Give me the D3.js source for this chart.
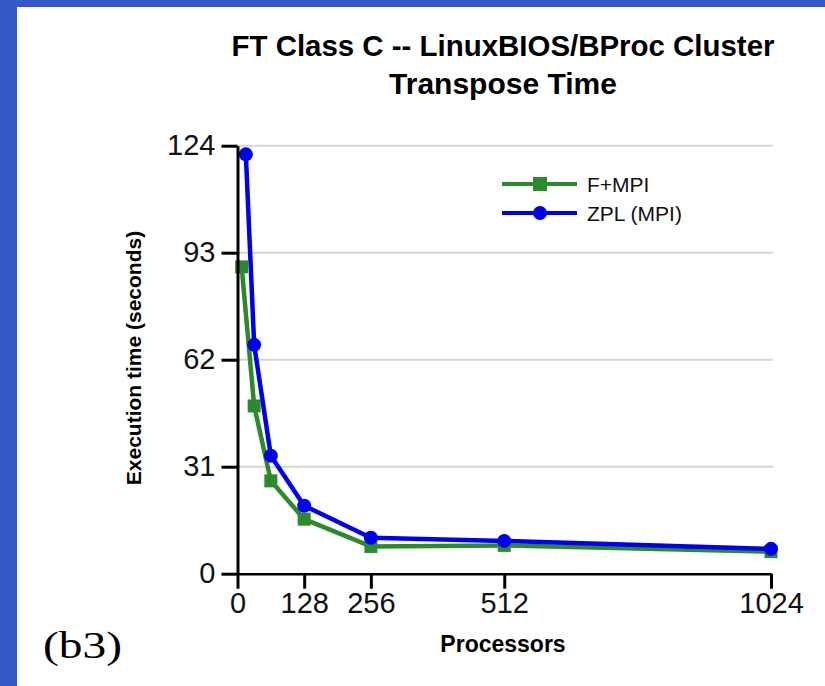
<!DOCTYPE html>
<html lang="en">
    <head>
        <meta charset="utf-8">
        <script src="https://d3js.org/d3.v7.min.js"></script>
        <style>
            body { margin: 0; background: #ffffff; }
        </style>
        <title>FT Class C</title>
    </head>
    <body>
        <div id="chart"></div>
        <script>
            // data
            var procsF = [8, 32, 64, 128, 256, 512, 1024];
            var fmpi   = [88.9, 48.6, 26.9, 15.8, 7.9, 8.2, 6.4];
            var procsZ = [16, 32, 64, 128, 256, 512, 1024];
            var zpl    = [121.5, 66.3, 34.2, 19.7, 10.4, 9.5, 7.2];
            var xTicks = [0, 128, 256, 512, 1024];
            var yTicks = [0, 31, 62, 93, 124];
            var seriesNames = ["F+MPI", "ZPL (MPI)"];

            var W = 825, H = 686;
            var sans = "'Liberation Sans', Arial, sans-serif";
            var svg = d3.select("#chart")
                .append("svg")
                    .attr("width", W)
                    .attr("height", H)
                    .attr("font-family", sans);

            // blue frame on top and left
            svg.append("rect").attr("x", 0).attr("y", 0).attr("width", W).attr("height", 7).attr("fill", "#3558c6");
            svg.append("rect").attr("x", 0).attr("y", 0).attr("width", 17).attr("height", H).attr("fill", "#3558c6");

            var x = d3.scaleLinear().domain([0, 1024]).range([237.5, 771]);
            var y = d3.scaleLinear().domain([0, 124]).range([573.7, 145.7]);

            // title
            svg.append("text")
                .attr("x", 503).attr("y", 56)
                .attr("text-anchor", "middle")
                .attr("font-size", 30).attr("font-weight", "bold")
                .attr("textLength", 543).attr("lengthAdjust", "spacingAndGlyphs")
                .text("FT Class C -- LinuxBIOS/BProc Cluster");
            svg.append("text")
                .attr("x", 503).attr("y", 94)
                .attr("text-anchor", "middle")
                .attr("font-size", 30).attr("font-weight", "bold")
                .text("Transpose Time");

            // grid
            svg.selectAll(".grid")
                .data(yTicks.filter(d => d > 0))
                .enter()
                .append("line")
                    .attr("class", "grid")
                    .attr("x1", x(0)).attr("x2", x(1024) + 2)
                    .attr("y1", d => y(d)).attr("y2", d => y(d))
                    .attr("stroke", "#d6d6d6")
                    .attr("stroke-width", 2);

            // series
            var line = d3.line().x(d => x(d[0])).y(d => y(d[1]));
            var fData = procsF.map((p, i) => [p, fmpi[i]]);
            var zData = procsZ.map((p, i) => [p, zpl[i]]);
            var green = "#2b8a2b", blue = "#0000ee";

            svg.append("path").datum(fData)
                .attr("d", line).attr("fill", "none")
                .attr("stroke", green).attr("stroke-width", 4.5).attr("stroke-linejoin", "round");
            svg.selectAll(".sq").data(fData).enter().append("rect")
                .attr("class", "sq")
                .attr("x", d => x(d[0]) - 6.5).attr("y", d => y(d[1]) - 6.5)
                .attr("width", 13).attr("height", 13)
                .attr("fill", green);

            svg.append("path").datum(zData)
                .attr("d", line).attr("fill", "none")
                .attr("stroke", blue).attr("stroke-width", 4.5).attr("stroke-linejoin", "round");
            svg.selectAll(".dot").data(zData).enter().append("circle")
                .attr("class", "dot")
                .attr("cx", d => x(d[0])).attr("cy", d => y(d[1]))
                .attr("r", 7)
                .attr("fill", blue);

            // axes
            var gy = svg.append("g")
                .attr("transform", "translate(" + x(0) + ",0)")
                .call(d3.axisLeft(y).tickValues(yTicks).tickSize(16).tickSizeOuter(0).tickPadding(6));
            var gx = svg.append("g")
                .attr("transform", "translate(0," + y(0) + ")")
                .call(d3.axisBottom(x).tickValues(xTicks).tickFormat(d3.format("d"))
                    .tickSize(15).tickSizeOuter(0).tickPadding(4));
            gy.select(".domain").attr("stroke-width", 3);
            gx.select(".domain").attr("stroke-width", 2.5);
            [gx, gy].forEach(g => {
                g.attr("font-family", sans).attr("font-size", 29);
                g.selectAll(".tick line").attr("stroke-width", 3);
                g.selectAll("text").attr("fill", "#111");
            });

            // axis titles
            svg.append("text")
                .attr("x", 503).attr("y", 652)
                .attr("text-anchor", "middle")
                .attr("font-size", 23).attr("font-weight", "bold")
                .text("Processors");
            svg.append("text")
                .attr("transform", "translate(141,358) rotate(-90)")
                .attr("text-anchor", "middle")
                .attr("font-size", 21).attr("font-weight", "bold")
                .text("Execution time (seconds)");

            // legend
            var legend = svg.append("g");
            var legY = [184, 213];
            legend.selectAll("line").data(seriesNames).enter().append("line")
                .attr("x1", 502).attr("x2", 577)
                .attr("y1", (d, i) => legY[i]).attr("y2", (d, i) => legY[i])
                .attr("stroke", (d, i) => i ? blue : green)
                .attr("stroke-width", 4);
            legend.append("rect").attr("x", 533).attr("y", legY[0] - 7).attr("width", 14).attr("height", 14).attr("fill", green);
            legend.append("circle").attr("cx", 540).attr("cy", legY[1]).attr("r", 7).attr("fill", blue);
            legend.selectAll("text").data(seriesNames).enter().append("text")
                .attr("x", 587)
                .attr("y", (d, i) => legY[i] + 7.5)
                .attr("font-size", 21)
                .attr("fill", "#111")
                .text(d => d);

            // panel label
            svg.append("text")
                .attr("x", 43).attr("y", 658)
                .attr("font-family", "'Liberation Serif', 'DejaVu Serif', serif")
                .attr("font-size", 38)
                .attr("textLength", 79).attr("lengthAdjust", "spacingAndGlyphs")
                .text("(b3)");
        </script>
    </body>
</html>
